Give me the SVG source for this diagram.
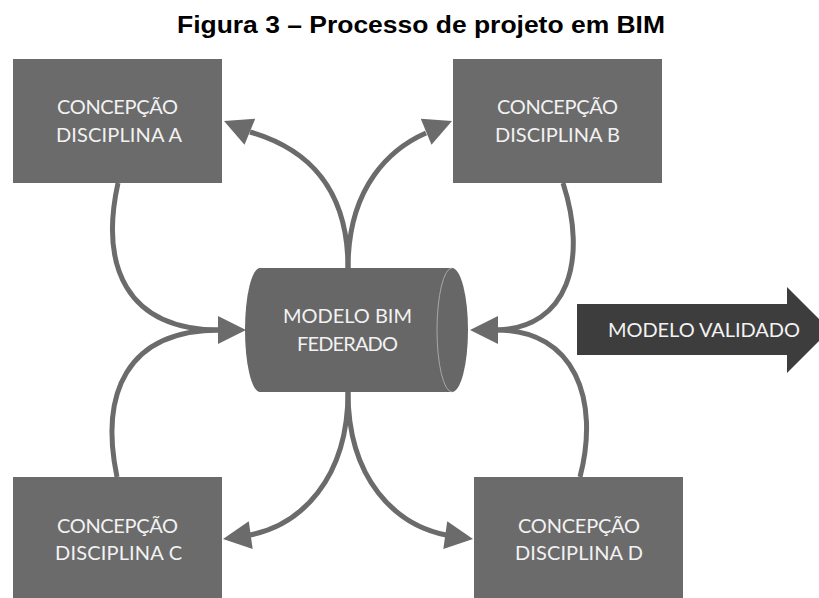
<svg xmlns="http://www.w3.org/2000/svg" width="819" height="598" viewBox="0 0 819 598">
<style>
.box{fill:#6b6b6b;}
.lbl{font-family:Lato,"Open Sans","DejaVu Sans",sans-serif;font-size:20px;fill:#f2f2f2;text-anchor:middle;}
.con{fill:none;stroke:#6b6b6b;stroke-width:5;}
.head{fill:#6b6b6b;}
.title{font-family:"Liberation Sans",Arial,sans-serif;font-weight:bold;font-size:23px;fill:#000;}
</style>
<defs>
<path id="ah" d="M0,0 L-28,-14 L-28,14 Z"/>
</defs>
<rect width="819" height="598" fill="#ffffff"/>
<text class="title" x="177" y="33" textLength="488" lengthAdjust="spacingAndGlyphs">Figura 3 – Processo de projeto em BIM</text>

<g id="connectors">
<path class="con" d="M118,183 C100,265 125,330 220,330"/>
<path class="con" d="M117,477 C100,395 125,330 220,330"/>
<path class="con" d="M348,268 C348,185 305,148 250,132"/>
<path class="con" d="M348,268 C348,185 392,148 426,133"/>
<path class="con" d="M563,183 C588,260 568,328 497,330"/>
<path class="con" d="M580,477 C600,400 575,330 497,330"/>
<path class="con" d="M348,392 C348,480 300,525 250,535"/>
<path class="con" d="M348,392 C348,480 396,525 446,535"/>
<use href="#ah" class="head" transform="translate(246,330)"/>
<use href="#ah" class="head" transform="translate(470,330) rotate(180)"/>
<use href="#ah" class="head" transform="translate(224,121) rotate(202.5)"/>
<use href="#ah" class="head" transform="translate(452,121) rotate(-22.5)"/>
<use href="#ah" class="head" transform="translate(223,539) rotate(172)"/>
<use href="#ah" class="head" transform="translate(473,539) rotate(8)"/>
</g>

<g id="nodeA">
<rect class="box" x="13" y="59" width="209" height="124"/>
<text class="lbl" x="117.5" y="114" textLength="121">CONCEPÇÃO</text>
<text class="lbl" x="119" y="142" textLength="126">DISCIPLINA A</text>
</g>
<g id="nodeB">
<rect class="box" x="453" y="59" width="209" height="124"/>
<text class="lbl" x="557.5" y="114" textLength="121">CONCEPÇÃO</text>
<text class="lbl" x="557.5" y="142" textLength="125">DISCIPLINA B</text>
</g>
<g id="nodeC">
<rect class="box" x="13" y="477" width="209" height="130"/>
<text class="lbl" x="117.5" y="533" textLength="121">CONCEPÇÃO</text>
<text class="lbl" x="118.5" y="560" textLength="127">DISCIPLINA C</text>
</g>
<g id="nodeD">
<rect class="box" x="474" y="477" width="209" height="130"/>
<text class="lbl" x="579" y="533" textLength="122">CONCEPÇÃO</text>
<text class="lbl" x="579" y="560" textLength="128">DISCIPLINA D</text>
</g>
<g id="modelo-bim">
<path fill="#676767" d="M260,268 L452,268 A16,62 0 0 1 452,392 L260,392 A15,62 0 0 1 260,268 Z"/>
<path fill="none" stroke="#a8a8a8" stroke-width="1" d="M452,268 A15,62 0 0 0 452,392"/>
<text class="lbl" x="347.5" y="323" textLength="129">MODELO BIM</text>
<text class="lbl" x="347.5" y="351" textLength="101">FEDERADO</text>
</g>
<g id="modelo-validado">
<path fill="#3d3d3d" d="M577,304 L787,304 L787,287 L830,330 L787,373 L787,355 L577,355 Z"/>
<text class="lbl" x="704" y="337" textLength="192">MODELO VALIDADO</text>
</g>
</svg>
